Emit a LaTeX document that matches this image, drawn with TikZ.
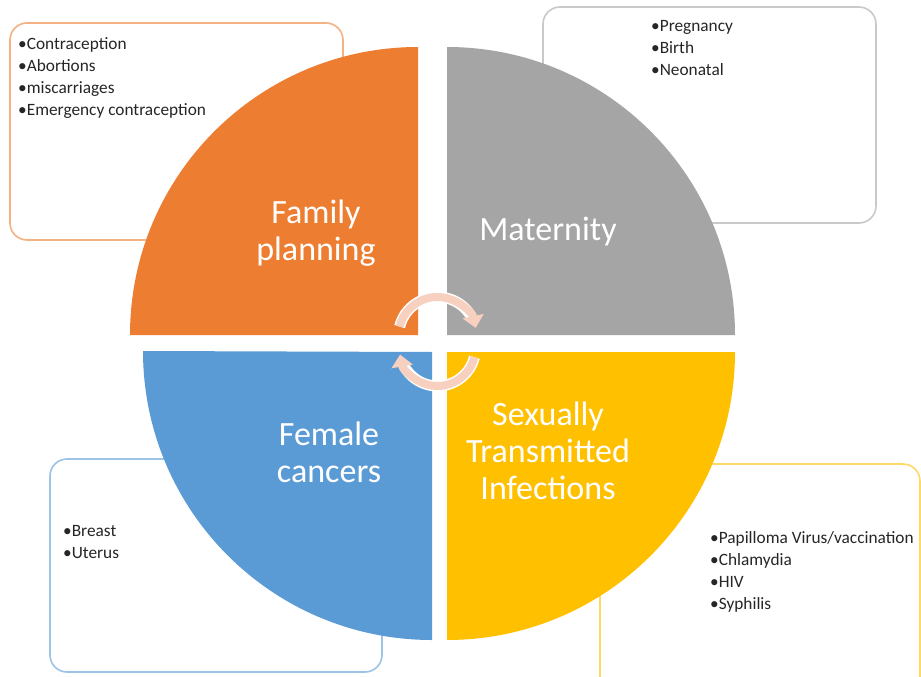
\documentclass[tikz,border=0pt]{standalone}
\usepackage{fontspec}
\setmainfont{Carlito}
\usetikzlibrary{arrows.meta}
\definecolor{cOrange}{HTML}{ED7D31}
\definecolor{cGray}{HTML}{A5A5A5}
\definecolor{cBlue}{HTML}{5B9BD5}
\definecolor{cYellow}{HTML}{FFC000}
\definecolor{lOrange}{HTML}{F4B183}
\definecolor{lGray}{HTML}{C9C9C9}
\definecolor{lBlue}{HTML}{9DC3E6}
\definecolor{lYellow}{HTML}{FFD966}
\definecolor{cPink}{HTML}{F7D0C0}
\tikzset{
  listbox/.style={draw, line width=1.6pt, rounded corners=17pt, fill=white, inner sep=0pt},
  listtext/.style={anchor=north west, inner sep=0pt, align=left, text=black!85, font=\fontsize{17.3}{22}\selectfont},
  title/.style={align=center, text=white, inner sep=0pt, font=\fontsize{34}{37}\selectfont},
  carrow/.style={draw=cPink, line width=8pt, -{Triangle[width=21pt,length=12pt]}},
  carrowedge/.style={draw=white, line width=11pt}
}
\begin{document}
\begin{tikzpicture}[x=1pt,y=-1pt]
\useasboundingbox[fill=white] (0,0) rectangle (921,677);
% outline boxes
\node[listbox, draw=lOrange, minimum width=333, minimum height=217] (fpbox) at (176.5,131.5) {};
\node[listbox, draw=lGray, minimum width=333, minimum height=216] (matbox) at (709.5,115) {};
\node[listbox, draw=lBlue, minimum width=332, minimum height=213] (fcbox) at (216,565.5) {};
\node[listbox, draw=lYellow, minimum width=320, minimum height=230] (stibox) at (760,579) {};
% quadrants
\fill[cOrange] (418,335) -- ++(-288,0) arc[start angle=180, end angle=270, radius=288] -- cycle;
\fill[cGray] (447,335) -- ++(0,-288) arc[start angle=270, end angle=360, radius=288] -- cycle;
\fill[cYellow] (447,352) -- ++(288,0) arc[start angle=0, end angle=90, radius=288] -- cycle;
\fill[cBlue] (432,352) -- ++(0,288) arc[start angle=90, end angle=180, radius=289] -- cycle;
% circular arrows
\coordinate (act) at (437.5,336);
\coordinate (acb) at (437.5,348);
\draw[carrowedge] ([shift={(194:39)}]act) arc[start angle=194, end angle=330, radius=39];
\draw[carrow] ([shift={(194:39)}]act) arc[start angle=194, end angle=348, radius=39];
\draw[carrowedge] ([shift={(14:38)}]acb) arc[start angle=14, end angle=150, radius=38];
\draw[carrow] ([shift={(14:38)}]acb) arc[start angle=14, end angle=170, radius=38];
% titles
\node[title] (fp) at (316,233) {Family\\planning};
\node[title] (mat) at (548,232) {Maternity};
\node[title] (fc) at (329,452) {Female\\cancers};
\node[title] (sti) at (548,451) {Sexually\\Transmitted\\Infections};
% lists
\node[listtext] (fplist) at (18,37) {•Contraception\\•Abortions\\•miscarriages\\•Emergency contraception};
\node[listtext] (matlist) at (651,20) {•Pregnancy\\•Birth\\•Neonatal};
\node[listtext] (fclist) at (63,525) {•Breast\\•Uterus};
\node[listtext] (stilist) at (710,531) {•Papilloma Virus/vaccination\\•Chlamydia\\•HIV\\•Syphilis};
\end{tikzpicture}
\end{document}
